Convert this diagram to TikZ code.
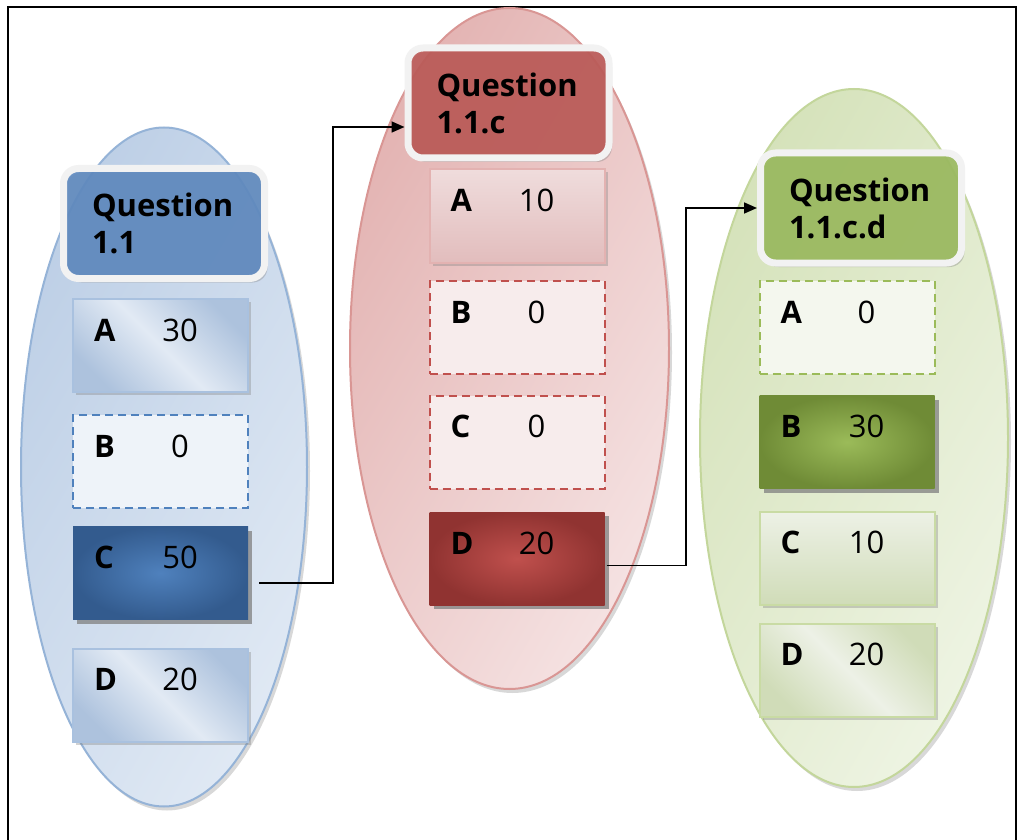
\documentclass[tikz,border=0pt]{standalone}
\usepackage{fontspec}
\setmainfont{Open Sans}
\usetikzlibrary{shapes.geometric,shadows,arrows.meta}
\definecolor{bEllL}{HTML}{BDCFE6}\definecolor{bEllR}{HTML}{E0E9F4}\definecolor{bEllD}{HTML}{95B3D7}
\definecolor{rEllL}{HTML}{E3B3B2}\definecolor{rEllR}{HTML}{F5E2E2}\definecolor{rEllD}{HTML}{D99694}
\definecolor{gEllL}{HTML}{D5E2BA}\definecolor{gEllR}{HTML}{EEF4E3}\definecolor{gEllD}{HTML}{C3D69B}
\definecolor{bHead}{HTML}{5E89BF}\definecolor{rHead}{HTML}{BC5956}\definecolor{gHead}{HTML}{9BBB5E}
\definecolor{hBord}{HTML}{F2F2F2}
\definecolor{bLA}{HTML}{ADC2DD}\definecolor{bLB}{HTML}{E2EAF4}\definecolor{bLD}{HTML}{A9C1DF}
\definecolor{rLA}{HTML}{E2BDBD}\definecolor{rLB}{HTML}{EFDCDC}\definecolor{rLD}{HTML}{E3B2B1}
\definecolor{gLA}{HTML}{D0DCB8}\definecolor{gLB}{HTML}{EDF1E6}\definecolor{gLD}{HTML}{C9DBA4}
\definecolor{bDI}{HTML}{4F81BD}\definecolor{bDO}{HTML}{335B8E}
\definecolor{rDI}{HTML}{C0504D}\definecolor{rDO}{HTML}{903331}
\definecolor{gDI}{HTML}{9BBB59}\definecolor{gDO}{HTML}{6F8B36}
\definecolor{bDash}{HTML}{4F81BD}\definecolor{rDash}{HTML}{C0504D}\definecolor{gDash}{HTML}{9BBB59}
\definecolor{bDF}{HTML}{EEF3F9}\definecolor{rDF}{HTML}{F7ECEC}\definecolor{gDF}{HTML}{F4F7EE}
\begin{document}
\begin{tikzpicture}[x=1pt,y=-1pt,
  ell/.style={ellipse, inner sep=0pt, line width=2pt, shading angle=60,
    drop shadow={shadow xshift=3pt, shadow yshift=-4pt, opacity=0.3}},
  head/.style={rounded corners=15pt, line width=7pt, draw=hBord, minimum width=201pt,
    minimum height=110pt, text width=144pt, align=left, inner sep=6pt,
    font=\bfseries\fontsize{31}{37}\selectfont, fill opacity=0.9, text opacity=1,
    drop shadow={shadow xshift=3pt, shadow yshift=-4pt, opacity=0.35}},
  ans/.style={minimum width=175pt, minimum height=93pt, inner sep=0pt, line width=2pt},
  lightbox/.style={ans, drop shadow={shadow xshift=3pt, shadow yshift=-3pt, opacity=0.35}},
  darkbox/.style={ans, shading=radial,
    drop shadow={shadow xshift=4pt, shadow yshift=-4pt, opacity=0.75}},
  dashbox/.style={ans, dashed, dash pattern=on 8pt off 5pt},
  let/.style={anchor=base west, inner sep=0pt, font=\bfseries\fontsize{31}{36}\selectfont},
  val/.style={anchor=base, inner sep=0pt, font=\fontsize{31}{36}\selectfont},
  conn/.style={line width=1.6pt, -{Triangle[length=13pt,width=11pt]}}
]
\useasboundingbox (0,0) rectangle (1021,840);
\fill[white] (0,0) rectangle (1021,840);
\draw[line width=2pt] (8,842) -- (8,7) -- (1016,7) -- (1016,842);

% ellipses
\node[ell, draw=bEllD, left color=bEllL, right color=bEllR, shading angle=60,
  minimum width=286pt, minimum height=679pt] (E1) at (164,467) {};
\node[ell, draw=rEllD, left color=rEllL, right color=rEllR, shading angle=60,
  minimum width=319pt, minimum height=681pt] (E2) at (509.5,348.5) {};
\node[ell, draw=gEllD, left color=gEllL, right color=gEllR, shading angle=60,
  minimum width=308pt, minimum height=698pt] (E3) at (854,438) {};

% headers
\node[head, fill=bHead] (H1) at (164,223.5) {Question\\1.1};
\node[head, fill=rHead] (H2) at (508.5,103) {Question\\1.1.c};
\node[head, fill=gHead] (H3) at (861,208) {Question\\1.1.c.d};

% column 1
\node[lightbox, draw=bLD, left color=bLA, right color=bLA, middle color=bLB, shading angle=135] (A1) at (160.5,345.5) {};
\node[dashbox, draw=bDash, fill=bDF] (B1) at (160.5,461.5) {};
\node[darkbox, inner color=bDI, outer color=bDO] (C1) at (160.5,573) {};
\node[lightbox, draw=bLD, left color=bLA, right color=bLA, middle color=bLB, shading angle=135] (D1) at (160.5,695) {};
% column 2
\node[lightbox, draw=rLD, left color=rLB, right color=rLA, shading angle=0] (A2) at (517,216) {};
\node[dashbox, draw=rDash, fill=rDF] (B2) at (517,327.5) {};
\node[dashbox, draw=rDash, fill=rDF] (C2) at (517,442) {};
\node[darkbox, inner color=rDI, outer color=rDO] (D2) at (517,558.5) {};
% column 3
\node[dashbox, draw=gDash, fill=gDF] (A3) at (847,327.5) {};
\node[darkbox, inner color=gDI, outer color=gDO] (B3) at (847,442) {};
\node[lightbox, draw=gLD, left color=gLB, right color=gLA, shading angle=0] (C3) at (847,558) {};
\node[lightbox, draw=gLD, left color=gLA, right color=gLA, middle color=gLB, shading angle=135] (D3) at (847,670) {};

% labels
\foreach \b/\l/\v in {A1/A/30,B1/B/0,C1/C/50,D1/D/20,A2/A/10,B2/B/0,C2/C/0,D2/D/20,A3/A/0,B3/B/30,C3/C/10,D3/D/20}{
  \node[let] (\b l) at ([shift={(22,43)}]\b.north west) {\l};
  \node[val] (\b v) at ([shift={(108,43)}]\b.north west) {\v};
}

% connectors
\coordinate (k1) at (333,127);
\coordinate (k2) at (686,208);
\draw[conn] ([xshift=10pt,yshift=-10pt]C1.east) -| (k1) -- (k1 -| H2.west);
\draw[conn] ([xshift=1pt,yshift=-7pt]D2.east) -| (k2) -- (k2 -| H3.west);
\end{tikzpicture}
\end{document}
